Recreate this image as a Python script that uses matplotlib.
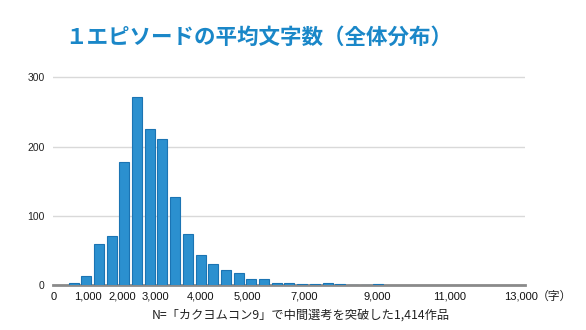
import numpy as np
import matplotlib
matplotlib.use("Agg")
import matplotlib.pyplot as plt

plt.rcParams['font.family'] = ['Noto Sans CJK JP', 'DejaVu Sans']

# Number of works per bucket of average characters per episode
counts = [3, 13, 59, 71, 178, 272, 226, 211, 127, 74, 43, 30, 22, 18,
          8, 8, 3, 3, 1, 1, 3, 1, 0, 0, 1]

# Axis labels and where they sit along the bucket axis
x_tick_labels = ['0', '1,000', '2,000', '3,000', '4,000', '5,000',
                 '7,000', '9,000', '11,000', '13,000']
x_tick_slots = [-1.6, 1.14, 3.82, 6.42, 9.96, 13.66, 18.15, 23.9, 29.6, 35.2]
y_ticks = [0, 100, 200, 300]

title = '１エピソードの平均文字数（全体分布）'
caption = 'N=「カクヨムコン9」で中間選考を突破した1,414作品'
unit = '（字）'

W, H = 586, 330
fig = plt.figure(figsize=(W / 100, H / 100), dpi=100)

left_px, right_px = 53, 525
bottom_px = 285
top_px = 285 - 310 * 0.6923
ax = fig.add_axes([left_px / W, 1 - bottom_px / H,
                   (right_px - left_px) / W, (bottom_px - top_px) / H])

x = np.arange(len(counts))
ax.bar(x, counts, width=0.79, color='#2B90CF', edgecolor='#1B74B3',
       linewidth=0.8, zorder=3)

ax.set_xlim(-1.62, 35.55)
ax.set_ylim(0, 310)

ax.set_yticks(y_ticks)
ax.set_yticklabels([str(v) for v in y_ticks], family='Liberation Sans',
                   fontsize=7.5, color='#222222')
ax.grid(axis='y', color='#d9d9d9', linewidth=1, zorder=0)
ax.tick_params(axis='y', length=0, pad=6)

ax.set_xticks(x_tick_slots)
ax.set_xticklabels(x_tick_labels, family='Liberation Sans', fontsize=8,
                   color='#111111')
ax.tick_params(axis='x', length=0, pad=5)

for s in ['top', 'right', 'left']:
    ax.spines[s].set_visible(False)
ax.spines['bottom'].set_color('#8a8a8a')
ax.spines['bottom'].set_linewidth(2)
ax.spines['bottom'].set_zorder(2.5)

fig.text(258.5 / W, 1 - 37 / H, title, ha='center', va='center',
         fontsize=15.5, fontweight='bold', color='#1A87C8')
fig.text(301 / W, 1 - 315 / H, caption, ha='center', va='center',
         fontsize=8.8, color='#222222')
fig.text(537 / W, 1 - 296 / H, unit, ha='left', va='center',
         fontsize=8.5, color='#222222')

fig.savefig('out.png', dpi=100)
